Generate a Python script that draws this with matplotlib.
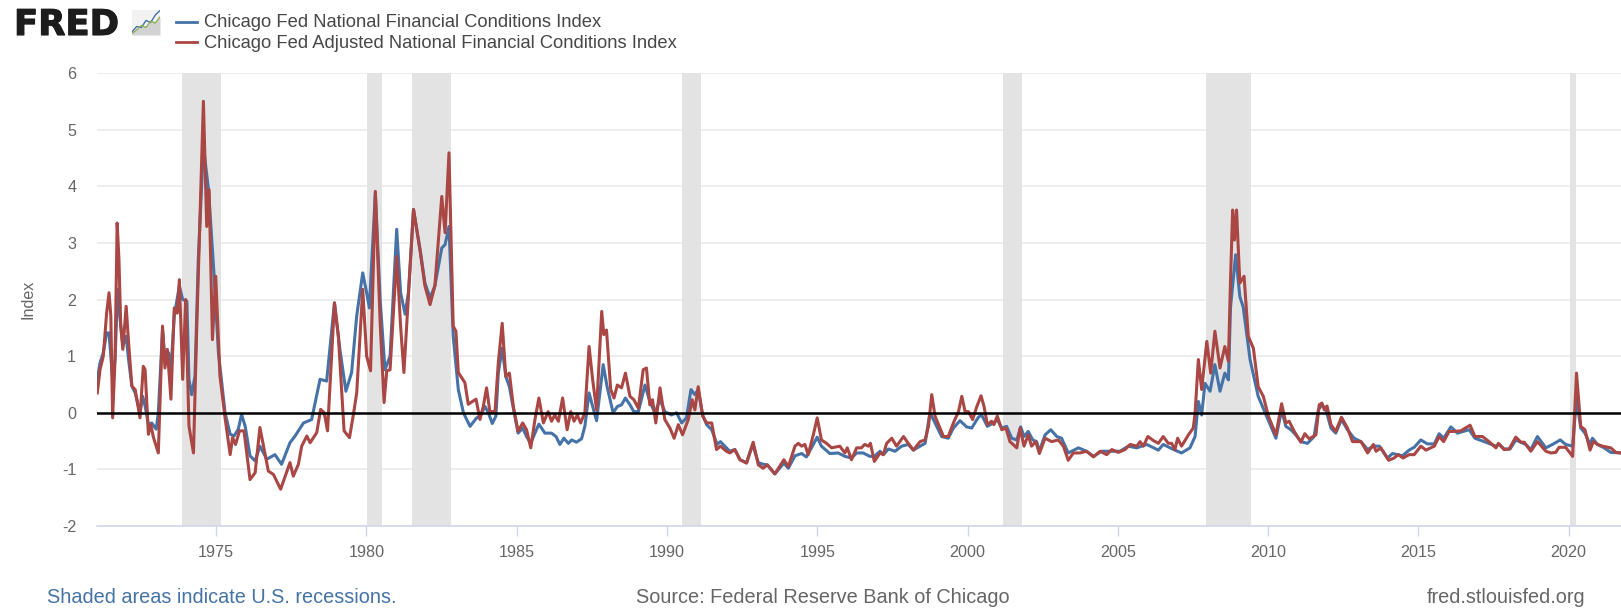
import matplotlib
matplotlib.use("Agg")
import matplotlib.pyplot as plt
import matplotlib.patheffects as pe

plt.rcParams['font.family'] = ['Liberation Sans', 'DejaVu Sans']
plt.rcParams['axes.unicode_minus'] = False

W, H = 1621, 610

series_names = ["Chicago Fed National Financial Conditions Index",
                "Chicago Fed Adjusted National Financial Conditions Index"]
recessions = [(1973.88, 1975.17), (1980.01, 1980.51), (1981.53, 1982.83), (1990.49, 1991.13),
              (2001.17, 2001.80), (2007.92, 2009.42), (2020.05, 2020.23)]
xtick_years = [1975, 1980, 1985, 1990, 1995, 2000, 2005, 2010, 2015, 2020]
ytick_values = [-2, -1, 0, 1, 2, 3, 4, 5, 6]

nfci = [
 (1971.05,.59),(1971.14,.88),(1971.25,1.06),(1971.36,1.41),(1971.44,1.41),(1971.56,.59),(1971.64,.94),(1971.73,2.18),
 (1971.81,1.65),(1971.90,1.18),(1972.01,1.35),(1972.09,.94),(1972.20,.47),(1972.31,.35),(1972.47,0),(1972.56,.29),
 (1972.64,.12),(1972.75,-.21),(1972.86,-.18),(1973.01,-.29),(1973.08,0),(1973.22,1.47),(1973.30,.94),(1973.42,1.06),
 (1973.50,.76),(1973.61,1.71),(1973.78,2.24),(1973.89,2.0),(1974.03,1.97),(1974.10,.59),(1974.19,.32),(1974.30,.65),
 (1974.41,2.71),(1974.58,4.7),(1974.75,3.94),(1974.93,2.47),(1975.08,1.06),(1975.30,0),(1975.47,-.38),(1975.60,-.41),
 (1975.74,-.29),(1975.85,-.03),(1975.97,-.24),(1976.13,-.76),(1976.30,-.85),(1976.46,-.59),(1976.69,-.82),(1976.96,-.74),
 (1977.18,-.91),(1977.46,-.53),(1977.63,-.41),(1977.91,-.18),(1978.18,-.12),(1978.46,.59),(1978.68,.56),(1978.94,1.94),
 (1979.12,1.12),(1979.32,.38),(1979.51,.71),(1979.68,1.71),(1979.88,2.47),(1980.01,2.12),(1980.10,1.85),(1980.30,3.88),
 (1980.46,2.0),(1980.62,.76),(1980.79,1.0),(1981.01,3.24),(1981.14,2.12),(1981.29,1.74),(1981.40,2.12),(1981.57,3.59),
 (1981.79,2.88),(1981.95,2.29),(1982.12,2.03),(1982.28,2.24),(1982.51,2.91),(1982.62,2.97),(1982.75,3.29),(1982.89,1.35),
 (1983.06,.41),(1983.23,0),(1983.45,-.24),(1983.67,-.09),(1983.78,-.06),(1983.95,.11),(1984.06,0),(1984.19,-.19),
 (1984.31,-.06),(1984.39,.7),(1984.52,1.14),(1984.64,.64),(1984.76,.46),(1984.89,.08),(1985.05,-.36),(1985.20,-.27),
 (1985.33,-.42),(1985.47,-.54),(1985.61,-.36),(1985.74,-.2),(1985.94,-.36),(1986.16,-.36),(1986.31,-.42),(1986.44,-.56),
 (1986.57,-.45),(1986.72,-.54),(1986.83,-.48),(1986.99,-.52),(1987.16,-.46),(1987.27,-.24),(1987.41,.35),(1987.53,.11),
 (1987.66,-.14),(1987.88,.85),(1988.01,.46),(1988.21,0),(1988.35,.11),(1988.49,.14),(1988.62,.26),(1988.77,.14),
 (1988.90,.02),(1989.05,.02),(1989.27,.49),(1989.43,.2),(1989.60,0),(1989.77,.23),(1989.93,.02),(1990.15,-.04),
 (1990.32,0),(1990.49,-.18),(1990.65,-.09),(1990.80,.41),(1990.93,.32),(1991.04,.41),(1991.19,-.04),(1991.32,-.21),
 (1991.49,-.3),(1991.67,-.56),(1991.78,-.51),(1991.98,-.62),(1992.09,-.68),(1992.26,-.65),(1992.43,-.83),(1992.65,-.88),
 (1992.85,-.56),(1993.04,-.88),(1993.20,-.91),(1993.34,-.92),(1993.59,-1.08),(1993.89,-.89),(1994.04,-.98),(1994.26,-.76),
 (1994.48,-.72),(1994.64,-.78),(1994.87,-.56),(1995.00,-.43),(1995.14,-.59),(1995.42,-.72),(1995.70,-.71),(1995.92,-.77),
 (1996.14,-.8),(1996.31,-.71),(1996.53,-.71),(1996.75,-.77),(1996.90,-.77),(1997.09,-.68),(1997.20,-.74),(1997.37,-.64),
 (1997.59,-.68),(1997.81,-.59),(1998.03,-.56),(1998.20,-.66),(1998.42,-.59),(1998.59,-.54),(1998.75,0),(1998.92,-.18),
 (1999.14,-.42),(1999.36,-.45),(1999.53,-.27),(1999.75,-.14),(1999.97,-.25),(2000.14,-.27),(2000.36,-.08),(2000.47,-.04),
 (2000.66,-.24),(2000.86,-.18),(2000.99,-.12),(2001.14,-.27),(2001.30,-.24),(2001.47,-.45),(2001.64,-.48),(2001.77,-.25),
 (2001.88,-.42),(2002.02,-.33),(2002.17,-.48),(2002.30,-.51),(2002.39,-.68),(2002.58,-.39),(2002.77,-.3),(2002.97,-.42),
 (2003.13,-.45),(2003.35,-.71),(2003.69,-.62),(2003.96,-.68),(2004.19,-.77),(2004.46,-.68),(2004.74,-.68),(2005.07,-.68),
 (2005.35,-.59),(2005.63,-.62),(2005.96,-.56),(2006.35,-.66),(2006.51,-.56),(2006.90,-.66),(2007.12,-.71),(2007.40,-.62),
 (2007.57,-.42),(2007.68,.2),(2007.79,-.04),(2007.90,.52),(2008.07,.38),(2008.23,.85),(2008.40,.38),(2008.56,.7),
 (2008.68,.58),(2008.75,1.87),(2008.92,2.79),(2009.06,2.05),(2009.17,1.87),(2009.40,.94),(2009.67,.29),(2009.95,-.06),
 (2010.26,-.45),(2010.45,.05),(2010.59,-.24),(2010.76,-.3),(2010.92,-.39),(2011.09,-.51),(2011.31,-.54),(2011.53,-.42),
 (2011.67,.05),(2011.79,.14),(2011.92,.06),(2012.09,-.27),(2012.25,-.36),(2012.44,-.12),(2012.64,-.3),(2012.86,-.45),
 (2013.09,-.51),(2013.31,-.65),(2013.50,-.59),(2013.70,-.59),(2013.97,-.8),(2014.14,-.72),(2014.47,-.76),(2014.69,-.66),
 (2014.86,-.61),(2015.08,-.48),(2015.30,-.55),(2015.53,-.55),(2015.69,-.37),(2015.84,-.45),(2016.08,-.25),(2016.30,-.36),
 (2016.69,-.3),(2016.88,-.45),(2017.19,-.51),(2017.58,-.59),(2017.69,-.56),(2017.85,-.64),(2018.05,-.64),(2018.24,-.48),
 (2018.57,-.56),(2018.74,-.65),(2018.96,-.42),(2019.24,-.62),(2019.46,-.56),(2019.72,-.48),(2019.90,-.56),(2020.13,-.59),
 (2020.26,.26),(2020.40,-.27),(2020.54,-.36),(2020.71,-.56),(2020.79,-.45),(2020.96,-.56),(2021.18,-.62),(2021.40,-.7),
 (2021.73,-.71),
]

anfci = [
 (1971.05,.35),(1971.14,.76),(1971.25,1.0),(1971.36,1.76),(1971.44,2.12),(1971.50,1.71),(1971.56,-.09),(1971.64,.94),
 (1971.71,3.35),(1971.77,2.71),(1971.83,1.53),(1971.90,1.12),(1972.01,1.88),(1972.09,1.24),(1972.20,.47),(1972.31,.41),
 (1972.47,-.09),(1972.58,.82),(1972.64,.76),(1972.75,-.38),(1972.83,-.21),(1972.92,-.44),(1973.08,-.71),(1973.22,1.53),
 (1973.30,.79),(1973.38,1.12),(1973.50,.24),(1973.61,1.85),(1973.71,1.76),(1973.78,2.35),(1973.89,.59),(1973.99,2.0),
 (1974.10,-.24),(1974.25,-.71),(1974.36,1.53),(1974.58,5.5),(1974.69,3.29),(1974.77,3.94),(1974.88,1.29),(1974.99,2.41),
 (1975.13,.65),(1975.30,-.09),(1975.47,-.74),(1975.55,-.44),(1975.65,-.56),(1975.78,-.32),(1975.93,-.32),(1976.13,-1.18),
 (1976.30,-1.06),(1976.46,-.26),(1976.74,-1.03),(1976.91,-1.09),(1977.15,-1.35),(1977.46,-.88),(1977.57,-1.12),(1977.74,-.91),
 (1977.85,-.59),(1978.02,-.41),(1978.13,-.53),(1978.35,-.35),(1978.48,.06),(1978.60,0),(1978.71,-.32),(1978.94,1.94),
 (1979.07,1.35),(1979.26,-.32),(1979.44,-.44),(1979.57,-.03),(1979.68,.35),(1979.88,2.18),(1980.01,1.0),(1980.14,.74),
 (1980.30,3.91),(1980.46,1.59),(1980.59,.18),(1980.68,.74),(1980.79,.76),(1981.01,2.76),(1981.14,1.53),(1981.25,.71),
 (1981.36,1.71),(1981.57,3.59),(1981.79,2.85),(1981.95,2.24),(1982.12,1.91),(1982.28,2.24),(1982.51,3.82),(1982.62,3.18),
 (1982.75,4.59),(1982.89,1.53),(1982.98,1.44),(1983.06,.71),(1983.17,.62),(1983.28,.53),(1983.39,.15),(1983.65,.24),
 (1983.78,-.12),(1983.89,.11),(1984.00,.44),(1984.11,.02),(1984.28,.02),(1984.39,.88),(1984.52,1.58),(1984.64,.64),
 (1984.76,.70),(1984.89,.11),(1985.05,-.33),(1985.20,-.18),(1985.33,-.3),(1985.47,-.62),(1985.61,-.12),(1985.74,.26),
 (1985.89,-.18),(1986.05,.02),(1986.16,-.15),(1986.27,-.04),(1986.39,-.15),(1986.53,.26),(1986.68,-.3),(1986.80,.02),
 (1986.91,-.15),(1987.02,-.04),(1987.13,-.18),(1987.27,0),(1987.41,1.17),(1987.53,.58),(1987.66,.05),(1987.83,1.79),
 (1987.90,1.38),(1987.99,1.46),(1988.13,.41),(1988.24,.26),(1988.35,.49),(1988.49,.44),(1988.62,.7),(1988.77,.29),
 (1988.90,.23),(1989.05,.08),(1989.21,.76),(1989.32,.79),(1989.43,.14),(1989.52,.23),(1989.63,-.18),(1989.77,.44),
 (1989.93,-.12),(1990.10,-.27),(1990.24,-.45),(1990.38,-.21),(1990.52,-.39),(1990.71,-.12),(1990.84,.23),(1990.93,.05),
 (1991.04,.46),(1991.19,-.06),(1991.32,-.18),(1991.49,-.18),(1991.65,-.65),(1991.78,-.59),(1991.98,-.68),(1992.09,-.71),
 (1992.26,-.65),(1992.43,-.83),(1992.65,-.89),(1992.87,-.52),(1993.04,-.92),(1993.20,-.98),(1993.34,-.92),(1993.59,-1.08),
 (1993.89,-.83),(1994.04,-.95),(1994.26,-.59),(1994.37,-.54),(1994.48,-.59),(1994.59,-.56),(1994.70,-.74),(1994.87,-.39),
 (1995.00,-.09),(1995.14,-.48),(1995.31,-.54),(1995.48,-.62),(1995.75,-.59),(1995.92,-.71),(1996.00,-.62),(1996.14,-.83),
 (1996.31,-.62),(1996.47,-.62),(1996.58,-.56),(1996.70,-.59),(1996.77,-.54),(1996.90,-.86),(1997.09,-.71),(1997.20,-.74),
 (1997.31,-.54),(1997.48,-.45),(1997.64,-.59),(1997.87,-.42),(1998.03,-.54),(1998.20,-.66),(1998.42,-.51),(1998.59,-.48),
 (1998.70,-.24),(1998.81,.32),(1998.92,-.06),(1999.06,-.24),(1999.20,-.42),(1999.36,-.42),(1999.53,-.18),(1999.70,.02),
 (1999.81,.29),(1999.92,.02),(2000.03,.02),(2000.17,-.12),(2000.31,.11),(2000.45,.3),(2000.55,.11),(2000.66,-.21),
 (2000.80,-.15),(2000.88,-.21),(2000.99,-.06),(2001.14,-.3),(2001.28,-.27),(2001.41,-.51),(2001.64,-.62),(2001.75,-.27),
 (2001.88,-.59),(2002.02,-.39),(2002.13,-.59),(2002.27,-.51),(2002.39,-.72),(2002.58,-.45),(2002.80,-.51),(2003.02,-.48),
 (2003.19,-.59),(2003.35,-.84),(2003.52,-.71),(2003.74,-.71),(2003.96,-.68),(2004.19,-.78),(2004.41,-.68),(2004.63,-.74),
 (2004.80,-.65),(2005.02,-.7),(2005.24,-.65),(2005.41,-.56),(2005.63,-.59),(2005.74,-.51),(2005.85,-.59),(2006.00,-.42),
 (2006.18,-.49),(2006.35,-.54),(2006.51,-.42),(2006.68,-.54),(2006.79,-.54),(2006.90,-.65),(2006.99,-.45),(2007.12,-.59),
 (2007.35,-.39),(2007.51,-.27),(2007.57,-.01),(2007.68,.94),(2007.79,.41),(2007.96,1.26),(2008.09,.7),(2008.23,1.44),
 (2008.40,.79),(2008.56,1.17),(2008.68,.91),(2008.75,2.35),(2008.82,3.58),(2008.88,3.05),(2008.95,3.58),(2009.06,2.29),
 (2009.20,2.41),(2009.34,1.35),(2009.51,1.14),(2009.67,.46),(2009.84,.29),(2010.01,-.06),(2010.26,-.39),(2010.45,.16),
 (2010.59,-.18),(2010.70,-.15),(2010.87,-.33),(2011.09,-.52),(2011.22,-.37),(2011.37,-.46),(2011.59,-.39),(2011.70,.14),
 (2011.79,.17),(2011.87,.05),(2011.96,.12),(2012.09,-.21),(2012.25,-.33),(2012.44,-.08),(2012.64,-.27),(2012.81,-.51),
 (2013.09,-.51),(2013.31,-.71),(2013.50,-.56),(2013.59,-.68),(2013.75,-.62),(2014.01,-.84),(2014.19,-.8),(2014.33,-.74),
 (2014.49,-.8),(2014.69,-.74),(2014.86,-.74),(2015.08,-.59),(2015.25,-.66),(2015.53,-.59),(2015.69,-.42),(2015.84,-.51),
 (2016.02,-.33),(2016.19,-.33),(2016.41,-.32),(2016.72,-.22),(2016.88,-.42),(2017.13,-.42),(2017.35,-.51),(2017.58,-.62),
 (2017.66,-.54),(2017.85,-.65),(2018.02,-.64),(2018.24,-.43),(2018.41,-.52),(2018.52,-.52),(2018.74,-.68),(2018.96,-.51),
 (2019.24,-.68),(2019.41,-.71),(2019.57,-.7),(2019.68,-.61),(2019.90,-.61),(2020.13,-.77),(2020.26,.7),(2020.40,-.24),
 (2020.54,-.3),(2020.71,-.66),(2020.82,-.51),(2020.96,-.56),(2021.12,-.59),(2021.40,-.62),(2021.57,-.7),(2021.73,-.71),
]

icon_blue = [0.12, 0.34, 0.30, 0.58, 0.50, 0.80, 0.98]
icon_green = [0.06, 0.20, 0.38, 0.30, 0.55, 0.48, 0.72]

BLUE, RED = '#4572A7', '#AA4643'
GREY_TXT = '#666666'
FS_TICK = 11.6

fig = plt.figure(figsize=(W / 100, H / 100), dpi=100, facecolor='white')
ax = fig.add_axes([97 / W, (H - 526) / H, (W - 97) / W, 453 / H])
ax.set_xlim(1971.04, 2021.74)
ax.set_ylim(-2, 6)

for s in ('top', 'left', 'right'):
    ax.spines[s].set_visible(False)
ax.spines['bottom'].set_color('#ccd6eb')
ax.spines['bottom'].set_linewidth(1.1)

ax.set_yticks(ytick_values)
ax.set_xticks(xtick_years)
ax.yaxis.grid(True, color='#e8e8e8', lw=1.1, zorder=0)
ax.set_axisbelow(True)
ax.tick_params(axis='y', length=0, pad=15, labelsize=FS_TICK, labelcolor=GREY_TXT)
ax.tick_params(axis='x', length=7, width=1, color='#ccd6eb', pad=7, labelsize=FS_TICK, labelcolor=GREY_TXT)
ax.set_ylabel('Index', fontsize=FS_TICK, color=GREY_TXT)
ax.yaxis.set_label_coords((36 - 97) / (W - 97), 0.5)

for a, b in recessions:
    ax.axvspan(a, b, color='#e3e3e3', lw=0, zorder=1)

ax.plot(*zip(*nfci), color=BLUE, lw=2.2, zorder=3, solid_joinstyle='round')
ax.plot(*zip(*anfci), color=RED, lw=2.2, zorder=4, solid_joinstyle='round')
ax.axhline(0, color='black', lw=1.8, zorder=5)

# header
fig.text(14 / W, 1 - 35 / H, 'FRED', fontsize=25.5, fontweight='bold', color='#1c1c1c',
         va='baseline', ha='left', family=['DejaVu Sans'],
         path_effects=[pe.withStroke(linewidth=0.8, foreground='#1c1c1c')])
icon = fig.add_axes([132 / W, 1 - 35 / H, 28 / W, 25 / H])
icon.set_xticks([])
icon.set_yticks([])
for s in icon.spines.values():
    s.set_visible(False)
icon.set_facecolor('#f2f2f2')
icon.fill_between(range(len(icon_green)), icon_green, 0, color='#d2d2d2', lw=0)
icon.plot(icon_blue, color=BLUE, lw=1.0)
icon.plot(icon_green, color='#8fae5a', lw=1.0)
icon.set_xlim(0, len(icon_blue) - 1)
icon.set_ylim(0, 1)

for i, (name, col) in enumerate(zip(series_names, (BLUE, RED))):
    y = 1 - (21.5 + 20 * i) / H
    fig.add_artist(plt.Line2D([176 / W, 197 / W], [y, y], color=col, lw=2.0))
    fig.text(204 / W, 1 - (22.5 + 20.5 * i) / H, name, fontsize=13.25, color='#474747', va='center', ha='left')

# footer
fig.text(47 / W, 1 - 597.5 / H, 'Shaded areas indicate U.S. recessions.', fontsize=14.3, color=BLUE, va='center')
fig.text(636 / W, 1 - 597.5 / H, 'Source: Federal Reserve Bank of Chicago', fontsize=14.3, color=GREY_TXT, va='center')
fig.text(1585 / W, 1 - 597.5 / H, 'fred.stlouisfed.org', fontsize=14.3, color=GREY_TXT, va='center', ha='right')

fig.savefig('out.png', dpi=100)
